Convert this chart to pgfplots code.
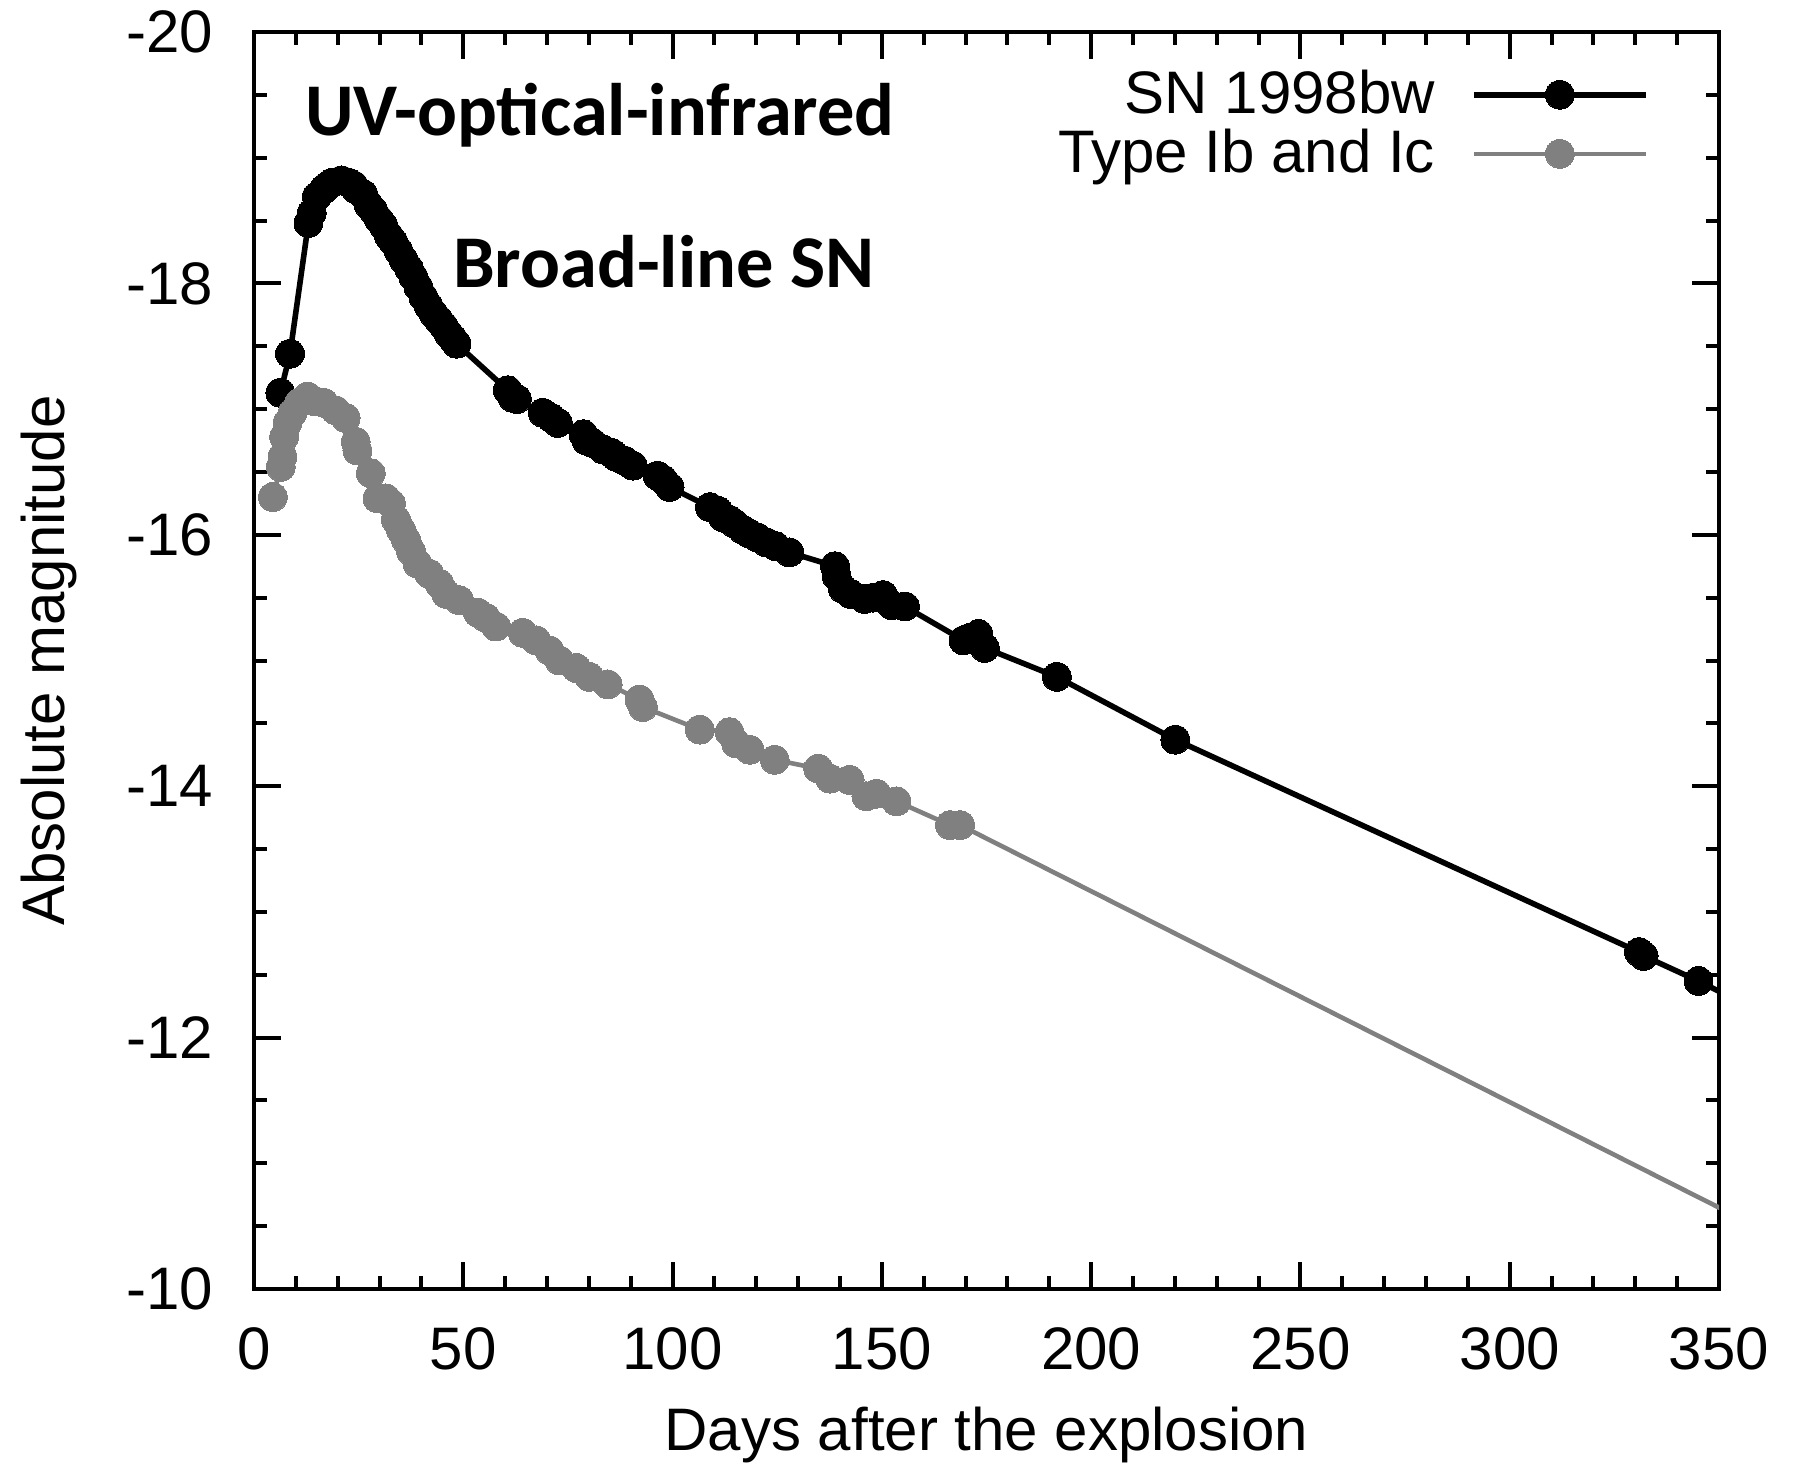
\documentclass[border=0pt]{standalone}
\usepackage{fontspec}
\setmainfont{Liberation Sans}
\newfontfamily\calibri{Carlito}
\usepackage{pgfplots}
\usepackage{pgfplotstable}
\pgfplotsset{compat=1.18}

\definecolor{lcgray}{gray}{0.5}

% SN 1998bw: days after explosion, absolute magnitude
\pgfplotstableread{
day mag
6.3 -17.13
8.6 -17.44
13.0 -18.48
13.8 -18.56
15.0 -18.69
16.7 -18.75
17.4 -18.77
18.6 -18.80
20.9 -18.82
22.7 -18.80
23.8 -18.78
24.3 -18.75
26.1 -18.71
27.3 -18.63
28.5 -18.58
29.8 -18.51
30.9 -18.46
32.2 -18.38
33.3 -18.33
34.5 -18.26
35.7 -18.19
37.0 -18.12
38.1 -18.05
39.3 -17.97
40.5 -17.89
41.7 -17.82
42.9 -17.76
44.1 -17.71
45.3 -17.66
46.5 -17.60
47.5 -17.56
48.4 -17.52
60.6 -17.15
61.8 -17.09
62.8 -17.08
69.0 -16.97
71.0 -16.93
72.6 -16.89
78.7 -16.80
79.4 -16.75
80.9 -16.73
83.3 -16.68
85.5 -16.65
86.5 -16.62
88.5 -16.59
90.5 -16.55
96.4 -16.47
97.7 -16.44
99.3 -16.38
108.9 -16.22
110.9 -16.19
112.0 -16.14
113.5 -16.12
114.8 -16.09
116.8 -16.04
118.3 -16.01
120.2 -15.98
122.4 -15.94
124.6 -15.91
127.9 -15.86
138.8 -15.75
139.2 -15.67
140.7 -15.57
142.5 -15.53
145.9 -15.49
148.0 -15.50
150.3 -15.52
152.3 -15.44
155.5 -15.43
169.5 -15.16
171.0 -15.18
173.1 -15.21
174.6 -15.10
191.8 -14.87
220.1 -14.37
330.9 -12.68
332.0 -12.65
345.1 -12.45
360.0 -12.20
}\sntable

% Mean light curve of Type Ib and Ic supernovae
\pgfplotstableread{
day mag
4.5 -16.30
6.4 -16.54
6.8 -16.62
7.2 -16.78
8.0 -16.89
9.2 -16.97
10.8 -17.05
12.8 -17.10
14.8 -17.06
16.7 -17.05
19.5 -16.99
21.9 -16.93
24.3 -16.74
24.7 -16.67
27.9 -16.49
29.5 -16.29
31.5 -16.29
32.7 -16.25
33.9 -16.12
35.1 -16.04
36.3 -15.96
37.5 -15.87
39.1 -15.77
41.9 -15.69
44.3 -15.61
45.9 -15.53
49.0 -15.48
53.5 -15.38
55.4 -15.34
57.8 -15.27
64.2 -15.22
67.4 -15.16
70.6 -15.08
73.0 -15.00
77.0 -14.94
80.1 -14.87
84.5 -14.81
92.1 -14.69
92.9 -14.63
106.5 -14.45
113.6 -14.43
115.2 -14.34
118.4 -14.29
124.4 -14.21
134.8 -14.14
137.6 -14.06
142.3 -14.05
146.3 -13.92
148.7 -13.94
153.5 -13.88
166.3 -13.69
168.7 -13.69
360.0 -10.48
}\ibctable

\begin{document}
\begin{tikzpicture}
\begin{axis}[
  name=ax,
  width=366.25pt, height=314.25pt, scale only axis,
  xmin=0, xmax=350, ymin=-20, ymax=-10, y dir=reverse,
  xtick={0,50,...,350}, ytick={-20,-18,...,-10},
  minor x tick num=4, minor y tick num=3,
  tick align=inside, tick pos=both,
  xticklabel pos=lower, yticklabel pos=left,
  major tick length=6.75pt, minor tick length=3.3pt,
  tick style={black, line width=1pt},
  axis line style={line width=1pt},
  /pgf/number format/assume math mode=true,
  tick label style={font=\fontsize{15}{18}\selectfont, inner sep=0pt},
  xticklabel style={yshift=-9.5pt},
  yticklabel style={xshift=-10pt},
  label style={font=\fontsize{15}{18}\selectfont, inner sep=0pt},
  xlabel={Days after the explosion},
  ylabel={Absolute magnitude},
  xlabel style={at={(axis description cs:0.5,-0.1281)}, anchor=base},
  ylabel style={at={(axis description cs:-0.1292,0.5)}, anchor=base},
  legend plot pos=right, legend cell align=right,
  legend style={at={(axis description cs:0.9607,0.9831)}, anchor=north east,
    draw=none, fill=none, font=\fontsize{15}{18}\selectfont, row sep=-1.6pt,
    /tikz/every odd column/.append style={column sep=7pt}},
  legend image code/.code={\draw[mark repeat=2,mark phase=2]
    plot coordinates {(0pt,0pt) (21.5pt,0pt) (43pt,0pt)};},
]
\addplot[black, line width=1.4pt, mark=*, mark size=3.6pt,
  mark options={solid, fill=black, draw=black, line width=0pt}]
  table[x=day, y=mag] {\sntable};
\addlegendentry{SN 1998bw}
\addplot[lcgray, line width=1.15pt, mark=*, mark size=3.6pt,
  mark options={solid, fill=lcgray, draw=lcgray, line width=0pt}]
  table[x=day, y=mag] {\ibctable};
\addlegendentry{Type Ib and Ic}

\node[anchor=base west, inner sep=0pt, font={\calibri\bfseries\fontsize{18.6}{22}\selectfont}]
  at (axis cs:12,-19.18) {UV-optical-infrared};
\node[anchor=base west, inner sep=0pt, font={\calibri\bfseries\fontsize{18.6}{22}\selectfont}]
  at (axis cs:47.4,-17.97) {Broad-line SN};
\end{axis}
\path (ax.south west) ++(-63.5pt,-45.75pt) coordinate (bl);
\path (ax.north east) ++(18.5pt,8pt) coordinate (tr);
\path (bl) rectangle (tr);
\end{tikzpicture}
\end{document}
